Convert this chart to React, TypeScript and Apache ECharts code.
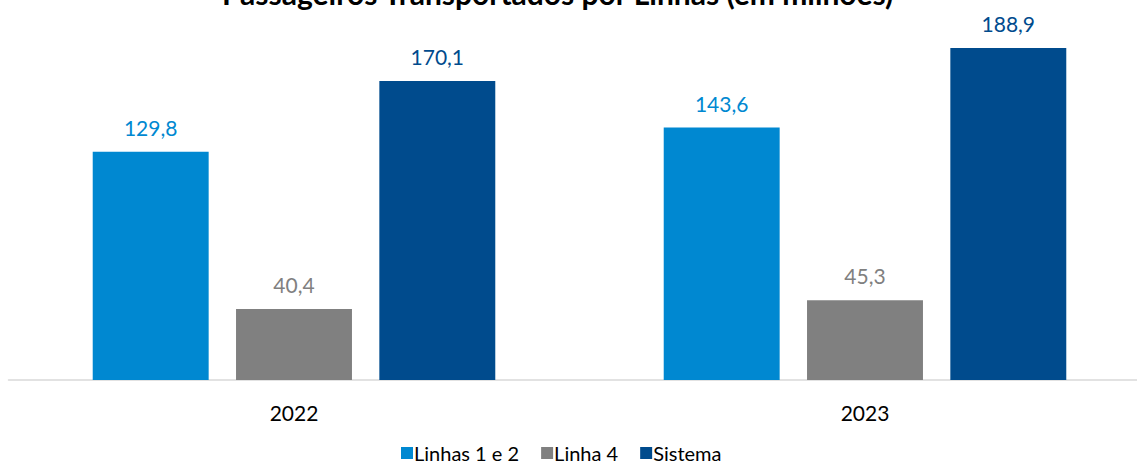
import React, { useEffect, useRef } from "react";
import * as echarts from "echarts";

const categories = ["2022", "2023"];
const seriesNames = ["Linhas 1 e 2", "Linha 4", "Sistema"];
const linhas12 = [129.8, 143.6];
const linha4 = [40.4, 45.3];
const sistema = [170.1, 188.9];
const colors = ["#0088D1", "#808080", "#004B8D"];
const titleText = "Passageiros Transportados por Linhas (em milhões)";

const fmt = (v: number) => v.toFixed(1).replace(".", ",");

export default function App() {
  const ref = useRef<HTMLDivElement>(null);
  useEffect(() => {
    document.body.style.margin = "0";
    if (!ref.current) return;
    const chart = echarts.init(ref.current, undefined, { renderer: "svg" });
    const data = [linhas12, linha4, sistema];
    chart.setOption({
      animation: false,
      title: {
        text: titleText,
        left: 217,
        top: -27,
        textStyle: {
          fontFamily: "Lato",
          fontWeight: "bold",
          fontSize: 30,
          color: "#000",
        },
      },
      legend: {
        top: 438,
        left: 396,
        itemWidth: 12,
        itemHeight: 12,
        itemGap: 22,
        icon: "rect",
        textStyle: {
          fontFamily: "Lato",
          fontSize: 20,
          lineHeight: 20,
          color: "#000",
          padding: [0, 0, 0, -4],
        },
        data: seriesNames,
      },
      grid: { left: 8.5, width: 1142, top: 28.4, height: 351.6, containLabel: false },
      xAxis: {
        type: "category",
        data: categories,
        axisLine: { lineStyle: { color: "#D9D9D9", width: 1.5 } },
        axisTick: { show: false },
        axisLabel: { fontFamily: "Lato", fontSize: 21, color: "#000", margin: 22 },
      },
      yAxis: {
        type: "value",
        min: 0,
        max: 200,
        show: false,
        splitLine: { show: false },
      },
      series: seriesNames.map((name, i) => ({
        name,
        type: "bar",
        data: data[i],
        barGap: "23.6%",
        barCategoryGap: "29.5%",
        itemStyle: { color: colors[i] },
        label: {
          show: true,
          position: "top",
          distance: 14,
          fontFamily: "Lato",
          fontSize: 21,
          color: colors[i],
          formatter: (p: any) => fmt(p.value),
        },
      })),
    });
    return () => chart.dispose();
  }, []);
  return (
    <div style={{ width: 1137, height: 465, overflow: "hidden", position: "relative" }}>
      <div ref={ref} style={{ width: 1160, height: 465 }} />
    </div>
  );
}
